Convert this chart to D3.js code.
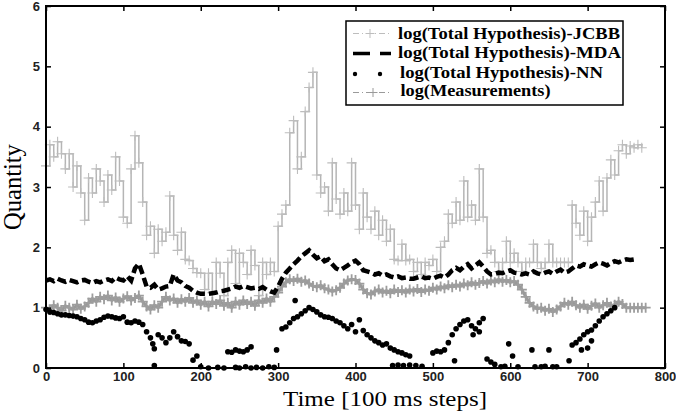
<!DOCTYPE html>
<head>
<meta charset="utf-8">
<script src="https://d3js.org/d3.v7.min.js"></script>
<style>
body { margin:0; background:#fff; }
.tick text { font-family:"Liberation Sans", Arial, sans-serif; font-size:13px; font-weight:bold; fill:#222; }
.lab { font-family:"Liberation Serif", "Times New Roman", serif; fill:#000; }
.leg { font-family:"Liberation Serif", "Times New Roman", serif; font-weight:bold; font-size:17px; fill:#000; }
</style>
</head>
<body>
<div id="chart"></div>
<script>
// time grid : one sample every 5 steps
step = 5;

// log(Total Hypothesis)-JCBB, t = 0..770
jcbb = [3.35,3.7,3.5,3.75,3.55,
  3.3,3.55,3.0,3.35,2.9,2.45,
  3.15,2.9,3.3,3.1,2.75,3.2,2.95,3.5,3.1,2.5,
  2.4,3.3,3.85,3.4,2.75,
  2.2,2.35,1.9,2.3,2.1,2.25,2.85,
  2.2,1.95,2.25,1.8,1.78,1.65,1.58,
  1.57,1.3,1.57,1.25,1.75,1.57,1.2,1.75,1.95,
  1.4,1.9,1.75,1.55,1.95,1.7,1.2,1.75,1.55,1.75,1.6,
  2.35,2.55,2.7,3.9,4.1,3.3,
  3.5,4.25,4.65,4.9,3.2,
  2.9,3.0,2.6,3.4,2.8,2.55,2.9,2.6,3.4,2.7,
  2.3,2.9,2.5,2.3,2.6,2.2,2.45,2.1,2.3,
  1.8,1.78,2.05,1.78,1.8,1.6,1.75,1.55,1.75,1.7,1.8,1.6,
  2.0,2.1,2.55,2.4,2.75,2.45,3.1,2.5,2.7,2.45,3.3,2.5,1.9,1.95,
  1.75,1.6,1.75,2.1,1.75,1.9,1.75,1.6,1.75,1.75,2.05,1.75,1.65,1.75,2.05,1.75,1.75,1.75,1.75,1.75,
  2.7,2.4,2.2,2.6,2.1,2.5,
  2.75,3.1,2.6,3.15,3.45,3.2,
  3.6,3.7,3.55,3.68,3.65,3.7,3.65];

// log(Total Hypothesis)-MDA, t = 0..760
mda = [1.45,1.47,1.44,1.48,1.45,1.43,1.46,1.44,1.42,1.45,1.46,
  1.43,1.41,1.44,1.42,1.45,1.47,1.44,1.5,1.47,1.45,
  1.52,1.45,1.65,1.73,1.55,
  1.35,1.33,1.38,1.3,1.32,1.35,1.36,
  1.55,1.45,1.42,1.36,1.33,1.28,1.25,1.23,
  1.23,1.23,1.24,1.25,1.27,1.28,1.3,1.32,
  1.35,1.33,1.36,1.34,1.32,1.33,1.31,1.34,1.3,1.27,1.25,
  1.35,1.48,1.58,1.65,1.72,1.78,1.85,1.9,1.95,1.88,
  1.82,1.85,1.77,1.8,1.72,1.65,1.62,
  1.66,1.7,1.75,1.78,1.72,1.62,
  1.6,1.58,1.55,1.57,1.53,1.55,1.52,1.5,1.52,1.49,1.5,1.48,
  1.48,1.5,1.52,1.49,1.5,1.48,1.51,1.53,1.5,1.55,
  1.62,1.66,1.62,1.68,1.72,1.65,1.7,1.75,1.68,1.6,
  1.55,1.56,1.58,1.57,1.6,1.62,
  1.58,1.57,1.55,1.57,1.55,1.6,1.57,1.55,1.58,1.6,1.56,1.6,1.63,1.58,1.6,
  1.65,1.7,1.68,1.72,1.7,1.68,1.72,1.75,1.73,1.7,1.74,1.77,1.75,1.78,1.8,1.79,1.8];

// log(Total Hypothesis)-NN, explicit points (step, value)
nnT = [0,5,10,15,20,25,30,35,40,45,50,55,60,65,70,75,80,85,90,95,100,105,110,115,120,125,
  130,135,138,140,145,150,155,160,165,170,175,180,185,190,195,
  140,200,210,222,230,245,250,258,265,272,280,288,295,
  235,240,245,250,255,260,265,298,
  305,310,315,320,322,325,330,335,340,345,350,355,360,365,370,375,380,385,390,395,400,
  405,410,415,420,425,430,435,440,445,450,455,460,465,470,
  448,455,462,470,478,486,
  500,505,510,515,520,525,530,535,540,545,550,555,560,565,552,560,528,570,575,580,
  588,593,598,603,610,628,632,640,645,650,655,660,676,
  680,685,690,695,700,705,692,700,705,710,715,720,725,730,735];
nnV = [0.97,0.93,0.92,0.9,0.88,0.88,0.87,0.86,0.85,0.82,0.8,0.76,0.75,0.78,0.8,0.84,0.86,0.85,0.83,0.82,0.85,0.76,0.75,0.78,0.76,0.72,
  0.6,0.5,0.4,0.32,0.55,0.5,0.42,0.5,0.6,0.52,0.45,0.44,0.4,0.13,0.2,
  0.04,0.02,0.0,0.01,0.0,0.01,0.0,0.02,0.0,0.01,0.0,0.02,0.01,
  0.27,0.26,0.3,0.28,0.27,0.3,0.35,0.3,
  0.65,0.68,0.75,0.82,1.12,0.85,0.9,0.95,1.0,0.97,0.93,0.88,0.85,0.84,0.82,0.78,0.75,0.7,0.65,0.72,0.6,
  0.8,0.62,0.55,0.5,0.45,0.42,0.38,0.4,0.33,0.3,0.27,0.25,0.22,0.2,
  0.04,0.05,0.04,0.05,0.04,0.03,
  0.25,0.28,0.27,0.3,0.42,0.55,0.65,0.72,0.78,0.8,0.7,0.65,0.75,0.82,0.55,0.6,0.12,0.15,0.1,0.06,
  0.02,0.03,0.4,0.2,0.02,0.3,0.02,0.02,0.03,0.3,0.02,0.02,0.12,
  0.38,0.42,0.48,0.55,0.6,0.45,0.3,0.33,0.63,0.7,0.78,0.85,0.9,0.95,1.0];

// log(Measurements), t = 0..775
meas = [1.0,0.96,1.04,1.0,0.95,1.03,1.0,0.97,1.05,0.98,1.02,
  1.08,1.15,1.1,1.18,1.14,1.2,1.12,1.17,1.1,1.15,1.19,1.12,1.16,1.2,1.1,
  1.02,0.97,1.04,1.0,
  1.1,1.18,1.12,1.15,1.08,1.14,1.1,1.16,1.08,1.12,1.05,1.1,
  1.02,1.1,1.06,1.12,1.03,1.08,1.0,1.1,1.05,1.12,1.06,1.1,1.03,1.12,1.08,1.15,1.1,1.18,
  1.25,1.35,1.42,1.47,1.44,1.48,1.43,1.45,1.4,
  1.36,1.34,1.37,1.32,1.3,1.27,1.29,1.33,
  1.4,1.45,1.47,1.46,1.4,1.3,
  1.24,1.22,1.27,1.3,1.25,1.28,1.24,1.3,1.26,1.29,1.25,1.3,1.27,1.31,1.26,1.3,1.28,1.33,
  1.3,1.35,1.32,1.37,1.34,1.38,1.35,1.4,1.37,1.42,1.38,1.41,1.44,1.4,1.45,1.42,1.47,1.43,1.46,1.42,
  1.44,1.38,1.3,1.18,1.08,1.02,0.98,1.0,
  0.95,0.98,0.93,0.97,1.02,1.08,1.05,1.1,
  1.04,1.0,1.05,0.98,1.03,1.07,1.0,1.04,1.08,1.02,1.05,1.1,1.06,
  1.0,1.0,1.0,1.0,1.0,1.0];

xTicks = [0,100,200,300,400,500,600,700,800];
yTicks = [0,1,2,3,4,5,6];
legendLabels = ["log(Total Hypothesis)-JCBB","log(Total Hypothesis)-MDA",
  "log(Total Hypothesis)-NN","log(Measurements)"];

W = 676; H = 417;
m = {left:46, right:11, top:6, bottom:49};

const svg = d3.select("#chart").append("svg")
    .attr("width", W).attr("height", H);

x = d3.scaleLinear().domain([0, 800]).range([m.left, W - m.right]);
y = d3.scaleLinear().domain([0, 6]).range([H - m.bottom, m.top]);

const plot = svg.append("g");

function pts(vals) { return vals.map((v, i) => [i * step, v]); }
line = d3.line().x(d => x(d[0])).y(d => y(d[1])).curve(d3.curveStepAfter);
lineS = d3.line().x(d => x(d[0])).y(d => y(d[1]));

function plus(g, data, size, color, sw) {
  g.selectAll(null).data(data).enter().append("path")
    .attr("d", d => "M" + (x(d[0]) - size) + "," + y(d[1]) + "h" + 2 * size +
      "M" + x(d[0]) + "," + (y(d[1]) - size) + "v" + 2 * size)
    .attr("stroke", color).attr("stroke-width", sw).attr("fill", "none");
}

// JCBB : light grey step line with + marks
let gj = plot.append("g");
gj.append("path").datum(pts(jcbb)).attr("d", line)
  .attr("fill", "none").attr("stroke", "#b5b5b5").attr("stroke-width", 1.5);
plus(gj, pts(jcbb), 5, "#bdbdbd", 1.1);

// Measurements : darker grey band of + marks
let gm = plot.append("g");
gm.append("path").datum(pts(meas)).attr("d", lineS)
  .attr("fill", "none").attr("stroke", "#999", ).attr("stroke-width", 3);
plus(gm, pts(meas), 5, "#9d9d9d", 1.8);

// MDA : thick black dashes
plot.append("path").datum(pts(mda)).attr("d", lineS)
  .attr("fill", "none").attr("stroke", "#000").attr("stroke-width", 4.5)
  .attr("stroke-dasharray", "9,4");

// NN : black dots
plot.selectAll(".nn").data(nnT.map((t, i) => [t, nnV[i]])).enter().append("circle")
  .attr("class", "nn")
  .attr("cx", d => x(d[0])).attr("cy", d => y(d[1])).attr("r", 2.8)
  .attr("fill", "#000");

// axes, ticks inward on four sides
svg.append("g").attr("transform", "translate(0," + y(0) + ")")
  .call(d3.axisBottom(x).tickValues(xTicks).tickSize(-5).tickPadding(4).tickFormat(d3.format("d")))
  .call(g => g.select(".domain").remove());
svg.append("g").attr("transform", "translate(" + x(0) + ",0)")
  .call(d3.axisLeft(y).tickValues(yTicks).tickSize(-5).tickPadding(6).tickFormat(d3.format("d")))
  .call(g => g.select(".domain").remove());
svg.append("g").attr("transform", "translate(0," + y(6) + ")")
  .call(d3.axisTop(x).tickValues(xTicks).tickSize(-5).tickFormat(""))
  .call(g => g.select(".domain").remove());
svg.append("g").attr("transform", "translate(" + x(800) + ",0)")
  .call(d3.axisRight(y).tickValues(yTicks).tickSize(-5).tickFormat(""))
  .call(g => g.select(".domain").remove());
svg.selectAll(".tick line").attr("stroke", "#000").attr("stroke-width", 1.5);

svg.append("rect").attr("x", x(0)).attr("y", y(6))
  .attr("width", x(800) - x(0)).attr("height", y(0) - y(6))
  .attr("fill", "none").attr("stroke", "#000").attr("stroke-width", 2);

svg.append("text").attr("class", "lab")
  .attr("x", 283).attr("y", 405.5)
  .attr("textLength", 204).attr("lengthAdjust", "spacingAndGlyphs")
  .style("font-size", "22px").text("Time [100 ms steps]");
svg.append("text").attr("class", "lab")
  .attr("transform", "translate(21,187) rotate(-90)").attr("text-anchor", "middle")
  .style("font-size", "24.5px").text("Quantity");

// legend
let lg = svg.append("g");
lg.append("rect").attr("x", 346).attr("y", 21).attr("width", 277).attr("height", 84)
  .attr("fill", "#fff").attr("stroke", "#000").attr("stroke-width", 1.5);
let rowY = [33.5, 53.5, 74, 92.5];
let textX = [398, 398, 400, 400.5];
let textW = [222, 223, 203, 150];
let baseY = [38.5, 58, 77.5, 96];
lg.selectAll(".leg").data(legendLabels).enter().append("text").attr("class", "leg")
  .attr("x", (d, i) => textX[i]).attr("y", (d, i) => baseY[i])
  .attr("textLength", (d, i) => textW[i]).attr("lengthAdjust", "spacingAndGlyphs")
  .text(d => d);
// sample marks
lg.append("path").attr("d", "M353," + rowY[0] + "h37").attr("stroke", "#bdbdbd")
  .attr("stroke-width", 1.2).attr("stroke-dasharray", "6,3,1,3");
lg.append("path").attr("d", "M370," + (rowY[0] - 4.5) + "v9M365.5," + rowY[0] + "h9")
  .attr("stroke", "#bdbdbd").attr("stroke-width", 1);
lg.append("path").attr("d", "M353," + rowY[1] + "h38").attr("stroke", "#000")
  .attr("stroke-width", 3.5).attr("stroke-dasharray", "17,10");
lg.selectAll(".ld").data([355, 380]).enter().append("circle").attr("class", "ld")
  .attr("cx", d => d).attr("cy", rowY[2]).attr("r", 2.2).attr("fill", "#000");
lg.append("path").attr("d", "M353," + rowY[3] + "h37").attr("stroke", "#9a9a9a")
  .attr("stroke-width", 1.2).attr("stroke-dasharray", "6,3,1,3");
lg.append("path").attr("d", "M373," + (rowY[3] - 4.5) + "v9M368.5," + rowY[3] + "h9")
  .attr("stroke", "#9a9a9a").attr("stroke-width", 1);
</script>
</body>
